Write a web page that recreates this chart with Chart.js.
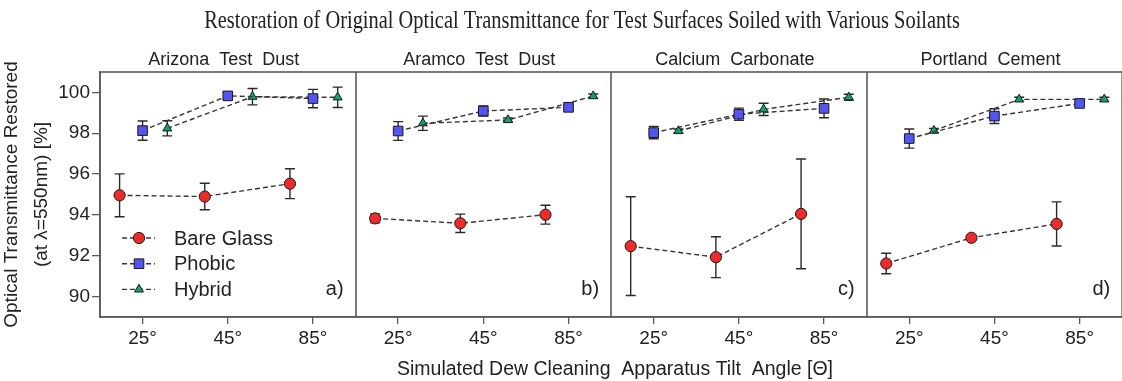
<!DOCTYPE html>
<html>
<head>
<meta charset="utf-8">
<title>Optical transmittance restoration</title>
<script src="https://cdn.jsdelivr.net/npm/chart.js@4.4.0/dist/chart.umd.min.js"></script>
<style>
  html, body { margin: 0; padding: 0; background: #fff; overflow: hidden; }
  #wrap { position: relative; width: 1130px; height: 381px; }
</style>
</head>
<body>
<div id="wrap"><canvas id="chart" width="1130" height="381"></canvas></div>
<script>
// ---- data -------------------------------------------------------------
const chartTitle = 'Restoration of Original Optical Transmittance for Test Surfaces Soiled with Various Soilants';
const yTitleLines = ['Optical Transmittance Restored', '(at λ=550nm) [%]'];
const xTitle = 'Simulated Dew Cleaning  Apparatus Tilt  Angle [Θ]';
const soilants = ['Arizona  Test  Dust', 'Aramco  Test  Dust', 'Calcium  Carbonate', 'Portland  Cement'];
const panelTags = ['a)', 'b)', 'c)', 'd)'];
const tiltAngles = ['25°', '45°', '85°'];
const yTickValues = [90, 92, 94, 96, 98, 100];
const seriesNames = ['Bare Glass', 'Phobic', 'Hybrid'];

// mean restored transmittance [%], one row per soilant, one value per tilt angle
const bareGlassMean = [[94.96, 94.90, 95.53], [93.83, 93.59, 94.01], [92.47, 91.93, 94.05], [91.62, 92.88, 93.56]];
const bareGlassErr  = [[1.05, 0.65, 0.73], [0.22, 0.45, 0.46], [2.42, 1.00, 2.69], [0.50, 0.10, 1.08]];
const phobicMean    = [[98.13, 99.83, 99.70], [98.11, 99.09, 99.27], [98.03, 98.93, 99.22], [97.74, 98.84, 99.46]];
const phobicErr     = [[0.47, 0.15, 0.45], [0.46, 0.25, 0.12], [0.30, 0.30, 0.46], [0.47, 0.36, 0.10]];
const hybridMean    = [[98.24, 99.79, 99.76], [98.49, 98.65, 99.82], [98.11, 99.17, 99.76], [98.13, 99.66, 99.66]];
const hybridErr     = [[0.37, 0.40, 0.50], [0.35, 0.10, 0.10], [0.10, 0.30, 0.15], [0.10, 0.10, 0.10]];

// ---- layout helpers ---------------------------------------------------
const PANEL_WIDTH = 3;            // x units per soilant panel
const DODGE = [-0.27, 0, 0.29];   // horizontal offset of each series inside a tilt group
const SANS = "'Liberation Sans', Arial, sans-serif";
const SERIF = "'Liberation Serif', 'Times New Roman', serif";
const INK = '#222';
const FRAME = '#5a5a5a';

// flatten a [panel][angle] table into x/y points, with a gap between panels
function toPoints(table, shift) {
  const pts = [];
  table.forEach((row, p) => {
    row.forEach((v, i) => pts.push({ x: p * PANEL_WIDTH + i + 1 + shift, y: v }));
    if (p < table.length - 1) pts.push({ x: (p + 1) * PANEL_WIDTH + 0.5, y: null });
  });
  return pts;
}
function toErrors(table) {
  const out = [];
  table.forEach((row, p) => {
    row.forEach(e => out.push(e));
    if (p < table.length - 1) out.push(null);
  });
  return out;
}

const styles = [
  { fill: '#ee2b2b', shape: 'circle',   radius: 5.6 },
  { fill: '#5454f2', shape: 'rect',     radius: 6.8 },
  { fill: '#0fa36e', shape: 'triangle', radius: 5.2 }
];
const means = [bareGlassMean, phobicMean, hybridMean];
const errs = [bareGlassErr, phobicErr, hybridErr];

const datasets = seriesNames.map((name, k) => ({
  label: name,
  data: toPoints(means[k], DODGE[k]),
  errorBars: toErrors(errs[k]),
  borderColor: '#363636',
  borderWidth: 1.4,
  borderDash: [5, 3],
  pointStyle: styles[k].shape,
  pointRadius: styles[k].radius,
  pointHoverRadius: styles[k].radius,
  pointBackgroundColor: styles[k].fill,
  pointBorderColor: '#1a1a1a',
  pointBorderWidth: 1,
  spanGaps: false,
  tension: 0,
  fill: false
}));

// ---- plugins ----------------------------------------------------------
const errorBarPlugin = {
  id: 'errorBars',
  beforeDatasetsDraw(chart) {
    const { ctx } = chart;
    const y = chart.scales.y;
    ctx.save();
    ctx.strokeStyle = '#2a2a2a';
    ctx.lineWidth = 1.4;
    chart.data.datasets.forEach((ds, di) => {
      const meta = chart.getDatasetMeta(di);
      meta.data.forEach((el, i) => {
        const pt = ds.data[i];
        const e = ds.errorBars[i];
        if (!pt || pt.y == null || e == null) return;
        const px = el.x;
        const top = y.getPixelForValue(pt.y + e);
        const bot = y.getPixelForValue(pt.y - e);
        ctx.beginPath();
        ctx.moveTo(px, top); ctx.lineTo(px, bot);
        ctx.moveTo(px - 5, top); ctx.lineTo(px + 5, top);
        ctx.moveTo(px - 5, bot); ctx.lineTo(px + 5, bot);
        ctx.stroke();
      });
    });
    ctx.restore();
  }
};

const panelPlugin = {
  id: 'panels',
  beforeDatasetsDraw(chart) {
    const { ctx, chartArea: a } = chart;
    const x = chart.scales.x;
    ctx.save();
    ctx.strokeStyle = FRAME;
    ctx.lineWidth = 1.6;
    ctx.strokeRect(a.left, a.top, a.right - a.left, a.bottom - a.top);
    for (let p = 1; p < soilants.length; p++) {
      const px = Math.round(x.getPixelForValue(p * PANEL_WIDTH + 0.5));
      ctx.beginPath();
      ctx.moveTo(px, a.top); ctx.lineTo(px, a.bottom);
      ctx.stroke();
    }

    ctx.fillStyle = INK;
    // main title: narrow, tall serif face
    ctx.save();
    ctx.font = `26px ${SERIF}`;
    ctx.textAlign = 'center';
    ctx.textBaseline = 'alphabetic';
    ctx.translate(582, 28);
    ctx.scale(0.785, 1);
    ctx.fillText(chartTitle, 0, 0);
    ctx.restore();

    // y axis title, two rotated lines
    ctx.save();
    ctx.font = `19px ${SANS}`;
    ctx.textAlign = 'center';
    ctx.textBaseline = 'middle';
    const cy = (a.top + a.bottom) / 2;
    yTitleLines.forEach((line, i) => {
      ctx.save();
      ctx.translate(12 + i * 29.5, cy);
      ctx.rotate(-Math.PI / 2);
      ctx.fillText(line, 0, 0);
      ctx.restore();
    });
    ctx.restore();

    // x axis title
    ctx.font = `19.5px ${SANS}`;
    ctx.textAlign = 'center';
    ctx.textBaseline = 'alphabetic';
    ctx.fillText(xTitle, 615, 375);

    // panel headings and tags
    soilants.forEach((name, p) => {
      const l = x.getPixelForValue(p * PANEL_WIDTH + 0.5);
      const r = x.getPixelForValue((p + 1) * PANEL_WIDTH + 0.5);
      ctx.font = `18px ${SANS}`;
      ctx.textAlign = 'center';
      ctx.textBaseline = 'alphabetic';
      ctx.fillText(name, (l + r) / 2 - 4, a.top - 7);
      ctx.font = `20px ${SANS}`;
      ctx.textAlign = 'right';
      ctx.textBaseline = 'middle';
      ctx.fillText(panelTags[p], r - 12, a.bottom - 28);
    });
    ctx.restore();
  },
  afterDatasetsDraw(chart) {
    // legend inside the first panel
    const { ctx, chartArea: a } = chart;
    ctx.save();
    chart.data.datasets.forEach((ds, k) => {
      const cy = a.bottom - 79 + k * 25.7;
      const x0 = a.left + 22, x1 = a.left + 55, mx = a.left + 39;
      ctx.strokeStyle = ds.borderColor;
      ctx.lineWidth = ds.borderWidth;
      ctx.setLineDash(ds.borderDash);
      ctx.beginPath(); ctx.moveTo(x0, cy); ctx.lineTo(x1, cy); ctx.stroke();
      ctx.setLineDash([]);
      ctx.fillStyle = ds.pointBackgroundColor;
      ctx.strokeStyle = ds.pointBorderColor;
      ctx.lineWidth = ds.pointBorderWidth;
      Chart.helpers.drawPoint(ctx, { pointStyle: ds.pointStyle, radius: ds.pointRadius, borderWidth: 1, rotation: 0 }, mx, cy);
      ctx.fillStyle = INK;
      ctx.font = `20px ${SANS}`;
      ctx.textAlign = 'left';
      ctx.textBaseline = 'middle';
      ctx.fillText(ds.label, a.left + 74, cy + 1);
    });
    ctx.restore();
  }
};

// ---- chart ------------------------------------------------------------
new Chart(document.getElementById('chart'), {
  type: 'line',
  data: { datasets },
  plugins: [panelPlugin, errorBarPlugin],
  options: {
    responsive: false,
    animation: false,
    events: [],
    layout: { padding: { left: 0, right: 3, top: 72, bottom: 0 } },
    plugins: {
      legend: { display: false },
      tooltip: { enabled: false },
      title: { display: false }
    },
    scales: {
      x: {
        type: 'linear',
        min: 0.5,
        max: soilants.length * PANEL_WIDTH + 0.5,
        afterBuildTicks(scale) {
          const t = [];
          soilants.forEach((_, p) => tiltAngles.forEach((_, i) => t.push({ value: p * PANEL_WIDTH + i + 1 })));
          scale.ticks = t;
        },
        afterFit(scale) { scale.height = 64; },
        ticks: {
          autoSkip: false,
          maxRotation: 0,
          padding: 3,
          color: INK,
          font: { family: SANS, size: 19 },
          callback: v => tiltAngles[(Math.round(v) - 1) % PANEL_WIDTH]
        },
        grid: { drawOnChartArea: false, drawTicks: true, tickLength: 7, color: FRAME, lineWidth: 1.3 },
        border: { display: true, color: FRAME, width: 1.6 },
        title: { display: false }
      },
      y: {
        min: 89,
        max: 101,
        afterBuildTicks(scale) { scale.ticks = yTickValues.map(v => ({ value: v })); },
        afterFit(scale) { scale.width = 100; },
        ticks: { color: INK, padding: 2, font: { family: SANS, size: 19 } },
        grid: { drawOnChartArea: false, drawTicks: true, tickLength: 8, color: FRAME, lineWidth: 1.3 },
        border: { display: true, color: FRAME, width: 1.6 },
        title: { display: false }
      }
    }
  }
});
</script>
</body>
</html>
